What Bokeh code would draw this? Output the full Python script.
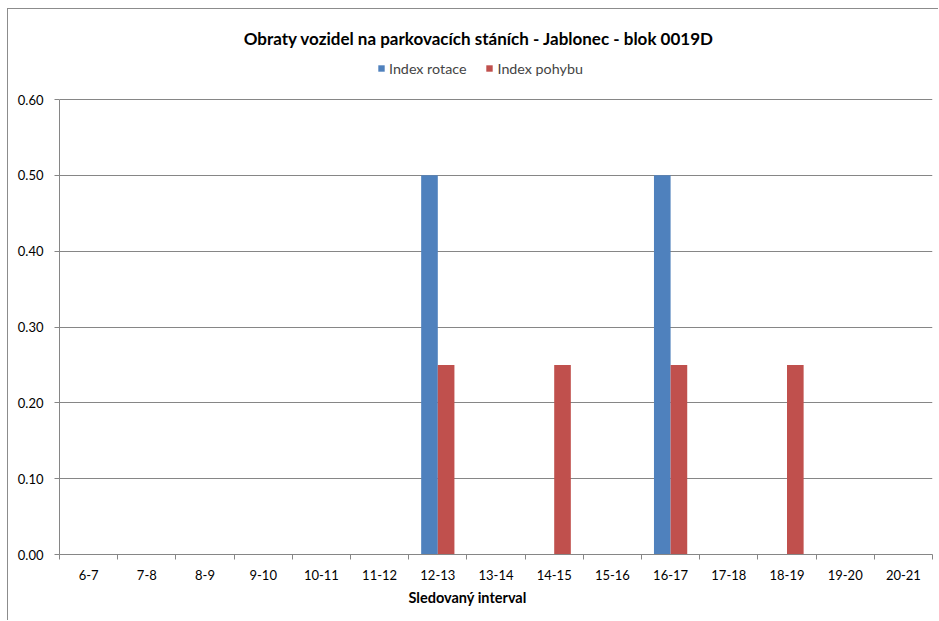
from bokeh.plotting import figure
from bokeh.models import (ColumnDataSource, Range1d, FixedTicker, Legend, LegendItem,
                          NumeralTickFormatter, Title, Label)
from bokeh.transform import dodge
from bokeh.embed import file_html
from bokeh.resources import INLINE

categories = ["6-7", "7-8", "8-9", "9-10", "10-11", "11-12", "12-13", "13-14",
              "14-15", "15-16", "16-17", "17-18", "18-19", "19-20", "20-21"]
index_rotace = [0, 0, 0, 0, 0, 0, 0.5, 0, 0, 0, 0.5, 0, 0, 0, 0]
index_pohybu = [0, 0, 0, 0, 0, 0, 0.25, 0, 0.25, 0, 0.25, 0, 0.25, 0, 0]
y_ticks = [0.0, 0.1, 0.2, 0.3, 0.4, 0.5, 0.6]

title_text = "Obraty vozidel na parkovacích stáních - Jablonec - blok 0019D"
x_title = "Sledovaný interval"
FONT = "Lato"
BLUE = "#4F81BD"
RED = "#C0504D"
GRAY = "#868686"

n = len(categories)
centers = [i + 0.5 for i in range(n)]
src = ColumnDataSource(dict(x=centers, rot=index_rotace, poh=index_pohybu))

# pixel geometry of the plotting area (frame spans from the top of the canvas
# down to the value axis at 0; the value axis itself stops at 0.60)
y_axis_max = 0.6
px_axis = 455          # pixels between 0.00 and 0.60
px_frame = 545         # frame height in pixels
y_end = y_axis_max * px_frame / px_axis
px_per_unit = px_axis / y_axis_max

p = figure(width=931, height=612, output_backend="svg", toolbar_location=None,
           title=None,
           x_range=Range1d(0, n), y_range=Range1d(0, y_end),
           min_border_left=51, min_border_right=7, min_border_top=0,
           min_border_bottom=67)
p.styles = {"margin-left": "7px", "margin-top": "8px",
            "border-left": "1px solid #8c8c8c", "border-top": "1px solid #8c8c8c"}
p.outline_line_color = None
p.background_fill_color = "white"
p.border_fill_color = "white"

bw = 1 / 3.5
r1 = p.vbar(x=dodge("x", -bw / 2, range=p.x_range), top="rot", width=bw, source=src,
            fill_color=BLUE, line_color=None)
r2 = p.vbar(x=dodge("x", bw / 2, range=p.x_range), top="poh", width=bw, source=src,
            fill_color=RED, line_color=None)

# x axis
xa = p.xaxis[0]
xa.ticker = FixedTicker(ticks=centers, minor_ticks=list(range(n + 1)))
xa.major_label_overrides = {c: lab for c, lab in zip(centers, categories)}
xa.major_tick_line_color = None
xa.minor_tick_line_color = GRAY
xa.minor_tick_out = 5
xa.minor_tick_in = 0
xa.axis_line_color = GRAY
xa.major_label_text_font = FONT
xa.major_label_text_font_size = "13px"
xa.major_label_text_color = "black"
xa.major_label_standoff = 9

# y axis
ya = p.yaxis[0]
ya.ticker = FixedTicker(ticks=y_ticks, minor_ticks=[])
ya.formatter = NumeralTickFormatter(format="0.00")
ya.bounds = (0, y_axis_max)
ya.axis_line_color = GRAY
ya.major_tick_line_color = GRAY
ya.major_tick_out = 5
ya.major_tick_in = 0
ya.minor_tick_line_color = None
ya.major_label_text_font = FONT
ya.major_label_text_font_size = "13px"
ya.major_label_text_color = "black"
ya.major_label_standoff = 11

p.xgrid.grid_line_color = None
p.ygrid.grid_line_color = GRAY
p.ygrid.grid_line_width = 1
p.ygrid.ticker = FixedTicker(ticks=y_ticks)

legend = Legend(items=[LegendItem(label="Index rotace", renderers=[r1]),
                       LegendItem(label="Index pohybu", renderers=[r2])],
                location=(318, 476), orientation="horizontal",
                glyph_width=8, glyph_height=8, label_standoff=4, spacing=19,
                padding=0, margin=0, background_fill_alpha=0,
                border_line_color=None, label_text_font=FONT,
                label_text_font_size="14.3px", label_height=20)
p.add_layout(legend, "center")

title = Label(x=7.208, y=515.7 / px_per_unit, text=title_text,
              text_align="center", text_baseline="alphabetic",
              text_font=FONT, text_font_size="17px", text_font_style="bold",
              text_color="black")
p.add_layout(title)

xlab = Title(text=x_title, align="left", offset=349, standoff=8,
             text_font=FONT, text_font_size="14.5px", text_font_style="bold",
             text_color="black")
p.add_layout(xlab, "below")

open("out.html", "w").write(file_html(p, INLINE))
